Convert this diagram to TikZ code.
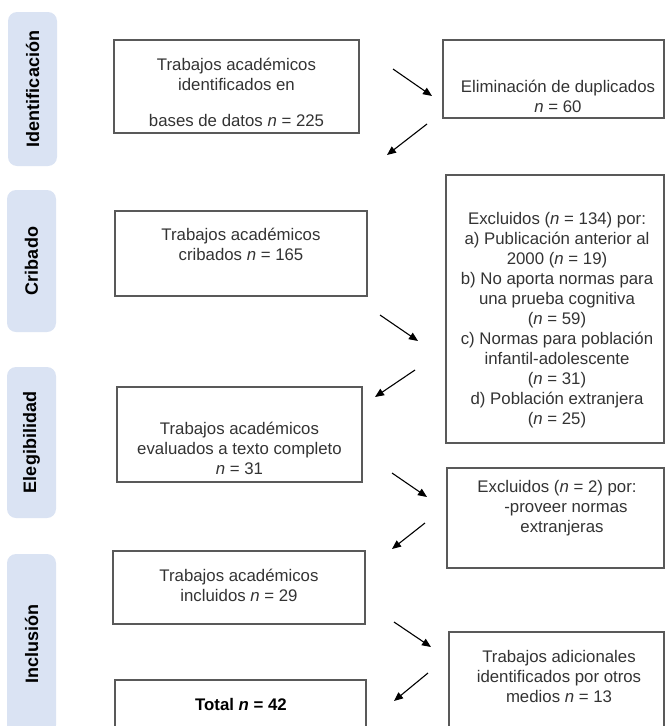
\documentclass[tikz,border=0pt]{standalone}
\usepackage{fontspec}
\setmainfont{Liberation Sans}
\usetikzlibrary{arrows.meta}
\definecolor{pillblue}{HTML}{DAE3F3}
\definecolor{boxgray}{HTML}{595959}
\definecolor{textgray}{HTML}{333333}
\begin{document}
\begin{tikzpicture}[x=1pt,y=-1pt,
  box/.style={draw=boxgray,line width=1.3pt,rectangle,inner sep=0pt},
  pill/.style={fill=pillblue,rounded corners=9pt,rotate=90,inner sep=0pt,
    font=\fontsize{18}{20}\selectfont\bfseries},
  txt/.style={inner sep=0pt,align=center,text=textgray,font=\fontsize{16.8}{20}\selectfont},
  arr/.style={line width=1.1pt,-{Triangle[length=9pt,width=7.5pt]}}]
\path[use as bounding box] (0,0) rectangle (667,726);
\clip (0,0) rectangle (667,726);

% phase pills
\node[pill,minimum width=154pt,minimum height=49pt] (p1) at (32.5,89) {Identificación};
\node[pill,minimum width=142pt,minimum height=49pt] (p2) at (31.5,261) {Cribado};
\node[pill,minimum width=151pt,minimum height=49pt] (p3) at (31.5,442.5) {Elegibilidad};
\node[pill,minimum width=180pt,minimum height=49pt] (p4) at (31.5,644) {Inclusión};

% left boxes
\node[box,minimum width=245pt,minimum height=93pt] (b1) at (236.5,86.5) {};
\node[box,minimum width=252pt,minimum height=85pt] (b2) at (241,253.5) {};
\node[box,minimum width=245pt,minimum height=95pt] (b3) at (239.5,434.5) {};
\node[box,minimum width=252pt,minimum height=73pt] (b4) at (239,587.5) {};
\node[box,minimum width=251pt,minimum height=80pt] (b5) at (240.5,720) {};

% right boxes
\node[box,minimum width=221pt,minimum height=78pt] (r1) at (553.5,79) {};
\node[box,minimum width=218pt,minimum height=268pt] (r2) at (555,309) {};
\node[box,minimum width=217pt,minimum height=100pt] (r3) at (555.5,518) {};
\node[box,minimum width=215pt,minimum height=128pt] (r4) at (556.5,696) {};

% texts
\node[txt] (t1) at (236.5,92.5) {Trabajos académicos\\identificados en\\[16pt]bases de datos \textit{n} = 225};
\node[txt] (t2) at (241,244.5) {Trabajos académicos\\cribados \textit{n} = 165};
\node[txt] (t3) at (239.5,448) {Trabajos académicos\\evaluados a texto completo\\\textit{n} = 31};
\node[txt] (t4) at (239,585.5) {Trabajos académicos\\incluidos \textit{n} = 29};
\node[txt,text=black,font=\fontsize{16.8}{20}\selectfont\bfseries] (t5) at (241,704) {Total \textit{n} = 42};

\node[txt] (tr1) at (558,96) {Eliminación de duplicados\\\textit{n} = 60};
\node[txt] (tr2) at (557,320.5) {Excluidos (\textit{n} = 134) por:\\a) Publicación anterior al\\2000 (\textit{n} = 19)\\b) No aporta normas para\\una prueba cognitiva\\(\textit{n} = 59)\\c) Normas para población\\infantil-adolescente\\(\textit{n} = 31)\\d) Población extranjera\\(\textit{n} = 25)};
\node[txt] (tr3) at (557,508) {Excluidos (\textit{n} = 2) por:\\\hspace*{18pt}-proveer normas\\\hspace*{10pt}extranjeras};
\node[txt] (tr4) at (559,676) {Trabajos adicionales\\identificados por otros\\medios \textit{n} = 13};

% arrow end points
\coordinate (a1s) at (393,69);  \coordinate (a1e) at (432,96);
\coordinate (a2s) at (427,124); \coordinate (a2e) at (387,155);
\coordinate (a3s) at (380,315); \coordinate (a3e) at (418,341);
\coordinate (a4s) at (415,370); \coordinate (a4e) at (375,397);
\coordinate (a5s) at (392,473); \coordinate (a5e) at (427,497);
\coordinate (a6s) at (425,523); \coordinate (a6e) at (392,549);
\coordinate (a7s) at (394,622); \coordinate (a7e) at (431,647);
\coordinate (a8s) at (428,673); \coordinate (a8e) at (394,701);

\draw[arr] (a1s) -- (a1e);
\draw[arr] (a2s) -- (a2e);
\draw[arr] (a3s) -- (a3e);
\draw[arr] (a4s) -- (a4e);
\draw[arr] (a5s) -- (a5e);
\draw[arr] (a6s) -- (a6e);
\draw[arr] (a7s) -- (a7e);
\draw[arr] (a8s) -- (a8e);
\end{tikzpicture}
\end{document}
